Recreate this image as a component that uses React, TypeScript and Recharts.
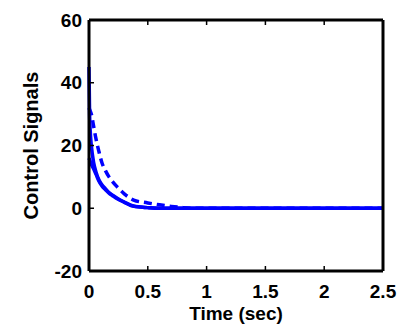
import { LineChart, Line, XAxis, YAxis } from "recharts";

const TIME = [0, 0.005, 0.01, 0.02, 0.04, 0.06, 0.085, 0.11, 0.14, 0.17, 0.2, 0.24, 0.3, 0.38, 0.5, 0.6, 0.7, 0.8, 0.9, 1.5, 2, 2.5];
const SIGNAL_A = [45, 30, 25, 20, 14.5, 11.5, 9, 7.5, 6.2, 5, 4.2, 3.2, 2, 0.7, 0.2, 0, 0, 0, 0, 0, 0, 0];
const SIGNAL_B = [16, 15.5, 15, 14, 12.5, 10.8, 8.6, 7.1, 5.9, 4.8, 4, 3, 1.9, 0.6, 0.2, 0, 0, 0, 0, 0, 0, 0];
const SIGNAL_C = [32, 31.5, 31, 30, 26, 22, 18, 14.5, 12, 10, 8.5, 6.8, 4.6, 2.6, 1.7, 1.1, 0.6, 0.2, 0, 0, 0, 0];

const X_TICKS = [0, 0.5, 1, 1.5, 2, 2.5];
const Y_TICKS = [-20, 0, 20, 40, 60];

const data = TIME.map((t, i) => ({ t, a: SIGNAL_A[i], b: SIGNAL_B[i], c: SIGNAL_C[i] }));

const font = { fontFamily: "Liberation Sans, Arial, sans-serif", fontWeight: 700, fontSize: 19, fill: "#000" };
const axisLine = { stroke: "#000", strokeWidth: 3 };
const tickLine = { stroke: "#000", strokeWidth: 1.5 };
const BLUE = "#0000ff";

export default function App() {
  return (
    <div style={{ position: "absolute", left: 0, top: 0, width: 401, height: 324, background: "#fff" }}>
      <LineChart width={401} height={324} data={data} margin={{ top: 19, right: 17, bottom: 0, left: 0 }}>
        <XAxis
          xAxisId="bottom"
          dataKey="t"
          type="number"
          domain={[0, 2.5]}
          ticks={X_TICKS}
          height={53}
          axisLine={axisLine}
          tickLine={tickLine}
          tickSize={-5}
          tickMargin={19}
          tick={font}
          label={{ value: "Time (sec)", position: "insideBottom", offset: 4, style: { ...font, fontSize: 19 } }}
        />
        <XAxis
          xAxisId="top"
          orientation="top"
          dataKey="t"
          type="number"
          domain={[0, 2.5]}
          ticks={X_TICKS}
          height={1}
          axisLine={axisLine}
          tickLine={tickLine}
          tickSize={-5}
          tickFormatter={() => ""}
        />
        <YAxis
          yAxisId="left"
          type="number"
          domain={[-20, 60]}
          ticks={Y_TICKS}
          width={89}
          axisLine={axisLine}
          tickLine={tickLine}
          tickSize={-5}
          tickMargin={12}
          tick={font}
          label={{ value: "Control Signals", angle: -90, position: "insideLeft", offset: 31, style: { ...font, fontSize: 20, textAnchor: "middle" } }}
        />
        <YAxis
          yAxisId="right"
          orientation="right"
          type="number"
          domain={[-20, 60]}
          ticks={Y_TICKS}
          width={1}
          axisLine={axisLine}
          tickLine={tickLine}
          tickSize={-5}
          tickFormatter={() => ""}
        />
        <Line xAxisId="bottom" yAxisId="left" type="monotone" dataKey="a" stroke={BLUE} strokeWidth={3.5} dot={false} isAnimationActive={false} />
        <Line xAxisId="bottom" yAxisId="left" type="monotone" dataKey="b" stroke={BLUE} strokeWidth={3.5} dot={false} isAnimationActive={false} />
        <Line xAxisId="bottom" yAxisId="left" type="monotone" dataKey="c" stroke={BLUE} strokeWidth={3.5} strokeDasharray="8 5" dot={false} isAnimationActive={false} />
      </LineChart>
    </div>
  );
}
